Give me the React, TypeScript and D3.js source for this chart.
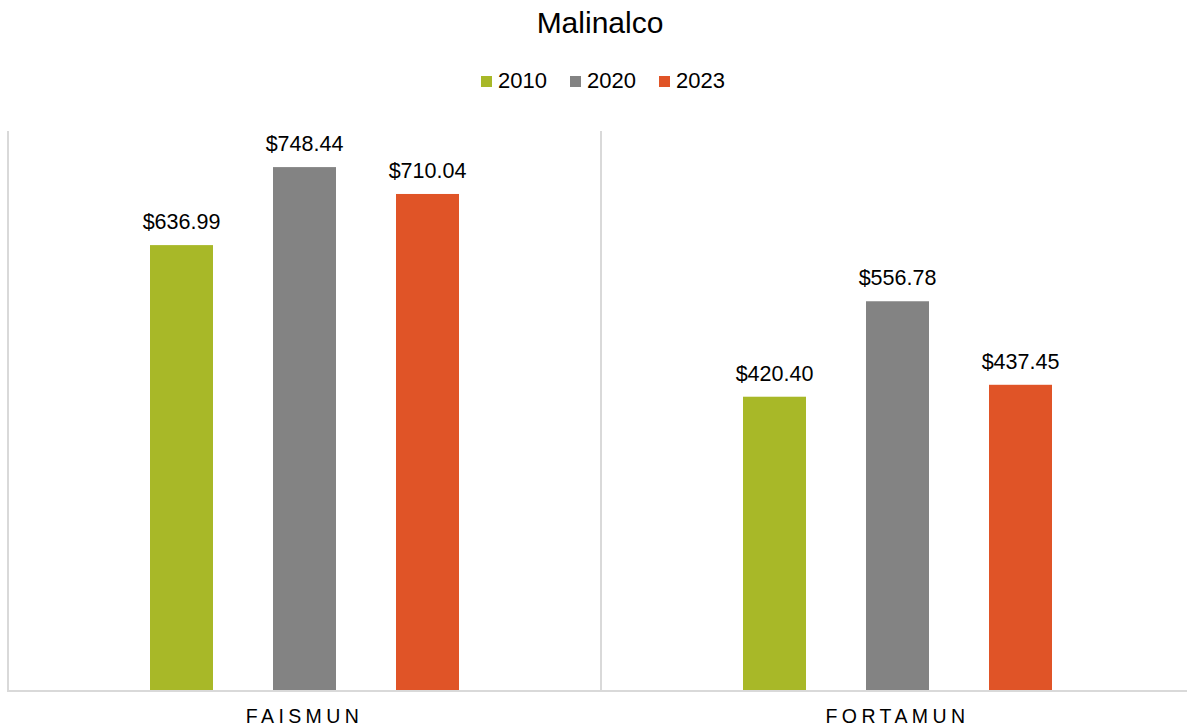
import React from "react";
import * as d3 from "d3";

const categories = ["FAISMUN", "FORTAMUN"];
const seriesNames = ["2010", "2020", "2023"];
const seriesColors = ["#A8B828", "#838383", "#E05427"];
const values2010 = [636.99, 420.40];
const values2020 = [748.44, 556.78];
const values2023 = [710.04, 437.45];
const seriesValues = [values2010, values2020, values2023];

const W = 1187;
const H = 727;
const plotLeft = 8;
const plotRight = 1194;
const plotTop = 131;
const plotBottom = 691;

export default function App() {
  const x0 = d3.scaleBand<string>().domain(categories).range([plotLeft, plotRight]).padding(0);
  const x1 = d3
    .scaleBand<string>()
    .domain(seriesNames)
    .range([142, x0.bandwidth() - 142])
    .paddingInner(60 / 123)
    .paddingOuter(0);
  const y = d3.scaleLinear().domain([0, 800]).range([plotBottom, plotTop]);
  const fmt = (v: number) => "$" + d3.format(",.2f")(v);
  const font = "Liberation Sans, Arial, sans-serif";

  const legendItems = [
    { x: 481, name: "2010" },
    { x: 570, name: "2020" },
    { x: 659, name: "2023" },
  ];

  return (
    <svg width={W} height={H} style={{ position: "absolute", left: 0, top: 0, display: "block" }} fontFamily={font}>
      <rect width={W} height={H} fill="#fff" />
      <text x={600} y={33} textAnchor="middle" fontSize={30} fill="#000">Malinalco</text>
      {legendItems.map((it, i) => (
        <g key={it.name}>
          <rect x={it.x} y={76} width={11} height={11} fill={seriesColors[i]} />
          <text x={it.x + 17} y={88} fontSize={22} fill="#000">{it.name}</text>
        </g>
      ))}
      <line x1={plotLeft} x2={plotLeft} y1={plotTop} y2={plotBottom} stroke="#d9d9d9" strokeWidth={2} />
      <line x1={x0("FORTAMUN")!} x2={x0("FORTAMUN")!} y1={plotTop} y2={plotBottom} stroke="#d9d9d9" strokeWidth={2} />
      {categories.map((c, ci) => (
        <g key={c} transform={`translate(${x0(c)},0)`}>
          {seriesNames.map((s, si) => {
            const v = seriesValues[si][ci];
            const bx = x1(s)!;
            return (
              <g key={s}>
                <rect x={bx} y={y(v)} width={x1.bandwidth()} height={plotBottom - y(v)} fill={seriesColors[si]} />
                <text x={bx + x1.bandwidth() / 2} y={y(v) - 16} textAnchor="middle" fontSize={21.5} fill="#000">
                  {fmt(v)}
                </text>
              </g>
            );
          })}
          <text x={x0.bandwidth() / 2} y={723} textAnchor="middle" fontSize={19.5} letterSpacing={4.4} fill="#000">
            {c}
          </text>
        </g>
      ))}
      <line x1={plotLeft - 1} x2={W} y1={plotBottom} y2={plotBottom} stroke="#d9d9d9" strokeWidth={2} />
    </svg>
  );
}
